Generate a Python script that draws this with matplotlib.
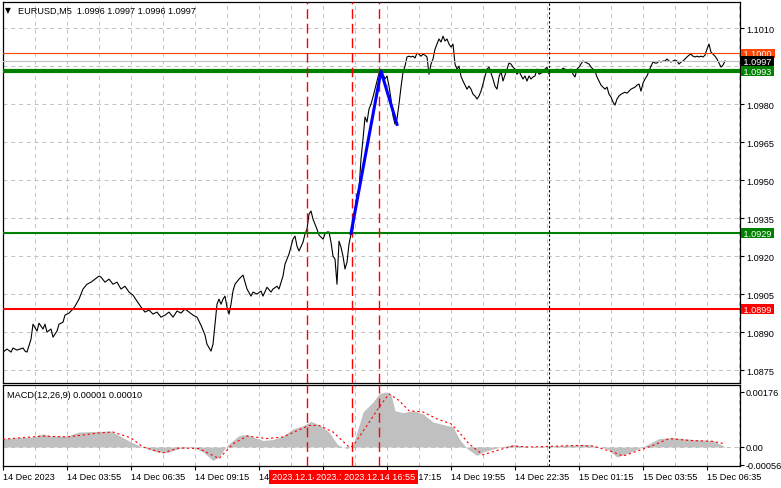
import matplotlib
matplotlib.use("Agg")
import numpy as np
import matplotlib.pyplot as plt
from matplotlib import font_manager

# narrow sans gives the Tahoma-like metrics of the terminal screenshot
installed = {f.name for f in font_manager.fontManager.ttflist}
if 'Liberation Sans Narrow' in installed:
    plt.rcParams['font.family'] = ['Liberation Sans Narrow', 'DejaVu Sans']
    FS = 8.0
else:
    plt.rcParams['font.family'] = ['Liberation Sans', 'DejaVu Sans']
    FS = 6.6

# 5-minute bars counted from 14 Dec 01:15
sparse_bars = [0, 2, 4, 5, 7, 10, 11, 12, 14, 15,
               17, 18, 20, 21, 22, 24, 25, 27, 28, 30,
               31, 33, 35, 36, 38, 40, 42, 44, 46, 48,
               49, 51, 53, 55, 57, 59, 61, 63, 65, 67,
               69, 71, 73, 75, 77, 79, 81, 83, 85, 87,
               89, 91, 93, 95, 97, 99, 101, 102, 104, 105,
               106, 107, 108, 109, 110, 111, 112, 113, 114, 115,
               116, 118, 119, 120, 122, 124, 125, 127, 129, 130,
               132, 134, 135, 137, 138, 140, 141, 143, 145, 146,
               147, 148, 150, 151, 152]
sparse_prices = [1.08821, 1.08833, 1.08821, 1.08837, 1.08829, 1.08837, 1.08825, 1.08821, 1.08872, 1.08931,
                 1.08904, 1.08935, 1.08912, 1.08931, 1.08900, 1.08912, 1.08880, 1.08904, 1.08931, 1.08939,
                 1.08967, 1.08975, 1.08991, 1.09002, 1.09030, 1.09070, 1.09089, 1.09097, 1.09109, 1.09121,
                 1.09117, 1.09097, 1.09109, 1.09089, 1.09097, 1.09070, 1.09081, 1.09058, 1.09046, 1.09022,
                 1.08999, 1.08979, 1.08987, 1.08971, 1.08979, 1.08959, 1.08967, 1.08979, 1.08959, 1.08983,
                 1.08975, 1.08991, 1.08979, 1.08967, 1.08959, 1.08927, 1.08888, 1.08852, 1.08825, 1.08852,
                 1.08931, 1.09010, 1.09030, 1.09010, 1.09030, 1.09042, 1.08999, 1.08971, 1.09010, 1.09062,
                 1.09089, 1.09109, 1.09117, 1.09125, 1.09070, 1.09042, 1.09058, 1.09050, 1.09062, 1.09042,
                 1.09077, 1.09058, 1.09070, 1.09081, 1.09070, 1.09121, 1.09168, 1.09208, 1.09267, 1.09279,
                 1.09239, 1.09220, 1.09255, 1.09287, 1.09306]

dense_bars = list(range(153, 362))
dense_prices = [1.09366, 1.09378, 1.09346, 1.09326, 1.09306, 1.09283, 1.09275, 1.09267, 1.09287, 1.09295,
                1.09295, 1.09255, 1.09200, 1.09188, 1.09089, 1.09259, 1.09235, 1.09200, 1.09149, 1.09176,
                1.09247, 1.09287, 1.09306, 1.09385, 1.09445, 1.09464, 1.09583, 1.09662, 1.09749, 1.09729,
                1.09780, 1.09800, 1.09828, 1.09859, 1.09891, 1.09922, 1.09926, 1.09918, 1.09899, 1.09911,
                1.09871, 1.09820, 1.09753, 1.09721, 1.09741, 1.09800, 1.09867, 1.09926, 1.09950, 1.09986,
                1.09989, 1.09986, 1.09989, 1.09982, 1.10001, 1.09997, 1.09989, 1.09997, 1.09993, 1.09986,
                1.09918, 1.09958, 1.09978, 1.10017, 1.10037, 1.10057, 1.10045, 1.10068, 1.10049, 1.10057,
                1.10037, 1.10025, 1.10037, 1.09958, 1.09938, 1.09950, 1.09910, 1.09891, 1.09875, 1.09859,
                1.09871, 1.09859, 1.09839, 1.09832, 1.09820, 1.09832, 1.09851, 1.09879, 1.09910, 1.09938,
                1.09946, 1.09922, 1.09899, 1.09871, 1.09859, 1.09907, 1.09930, 1.09891, 1.09914, 1.09938,
                1.09962, 1.09958, 1.09946, 1.09938, 1.09918, 1.09930, 1.09914, 1.09899, 1.09911, 1.09891,
                1.09911, 1.09899, 1.09907, 1.09911, 1.09938, 1.09918, 1.09922, 1.09926, 1.09938, 1.09946,
                1.09918, 1.09930, 1.09926, 1.09930, 1.09938, 1.09934, 1.09930, 1.09942, 1.09938, 1.09930,
                1.09934, 1.09938, 1.09918, 1.09907, 1.09938, 1.09946, 1.09958, 1.09970, 1.09966, 1.09962,
                1.09958, 1.09946, 1.09938, 1.09930, 1.09907, 1.09891, 1.09875, 1.09867, 1.09859, 1.09867,
                1.09839, 1.09828, 1.09808, 1.09796, 1.09820, 1.09832, 1.09839, 1.09843, 1.09847, 1.09843,
                1.09851, 1.09859, 1.09863, 1.09867, 1.09875, 1.09879, 1.09851, 1.09883, 1.09899, 1.09911,
                1.09930, 1.09950, 1.09966, 1.09962, 1.09962, 1.09970, 1.09966, 1.09970, 1.09970, 1.09978,
                1.09970, 1.09966, 1.09970, 1.09974, 1.09970, 1.09958, 1.09966, 1.09970, 1.09978, 1.09986,
                1.09993, 1.09997, 1.09989, 1.09986, 1.09989, 1.09986, 1.09989, 1.09986, 1.09993, 1.10017,
                1.10037, 1.10005, 1.09997, 1.09989, 1.09978, 1.09962, 1.09946, 1.09954, 1.09970]

price_bars = sparse_bars + dense_bars
price_close = sparse_prices + dense_prices

# blue trend sketch
blue_bars = [174, 189, 197]
blue_prices = [1.0929, 1.0993, 1.0972]

# horizontal levels
level_prices = [1.1000, 1.0997, 1.0993, 1.0929, 1.0899]
level_colors = ['#FF4500', '#C0C0C0', '#008000', '#008000', '#FF0000']
level_widths = [0.8, 0.8, 3.0, 1.5, 1.5]
level_box_colors = ['#FF4500', 'black', '#008000', '#008000', '#FF0000']

# vertical markers
event_bars = [152.25, 174.5, 188.25]
event_labels = ['2023.12.14 13:55', '2023.12.14 15:45', '2023.12.14 16:55']
day_sep_bar = 273

# MACD histogram and signal
hist_bars = [0, 8, 15, 20, 24, 32, 38, 48, 54, 58,
             64, 68, 72, 77, 82, 88, 95, 100, 105, 108,
             112, 115, 118, 122, 125, 130, 135, 140, 145, 150,
             154, 158, 163, 167, 168, 172, 175, 177, 180, 185,
             188, 191, 194, 196, 200, 205, 210, 215, 220, 225,
             228, 232, 237, 240, 247, 255, 263, 280, 292, 302,
             307, 312, 318, 323, 328, 335, 345, 355, 361]
hist_vals = [0.00026, 0.00030, 0.00032, 0.00042, 0.00035, 0.00035, 0.00048, 0.00050, 0.00051, 0.00037,
             0.00016, 0.00005, -0.00005, -0.00016, -0.00018, -0.00005, 0.0, -0.00016, -0.00043, -0.00032,
             0.00005, 0.00021, 0.00037, 0.00040, 0.00032, 0.00021, 0.00024, 0.00035, 0.00058, 0.00068,
             0.00082, 0.00071, 0.00048, 0.00010, 0.00005, -0.00005, 0.00005, 0.00048, 0.00112, 0.00144,
             0.00170, 0.00176, 0.00168, 0.00116, 0.00110, 0.00116, 0.00106, 0.00080, 0.00072, 0.00064,
             0.00027, -0.00005, -0.00027, -0.00016, -0.00003, 0.00008, 0.0, 0.00005, 0.00008, -0.00005,
             -0.00032, -0.00021, -0.00005, 0.00010, 0.00027, 0.00030, 0.00024, 0.00021, 0.00001]
sig_bars = [0, 20, 32, 48, 55, 64, 70, 80, 88, 98,
            108, 115, 122, 132, 140, 153, 158, 165, 173, 175,
            182, 188, 193, 198, 203, 210, 217, 224, 228, 233,
            240, 247, 255, 263, 288, 295, 305, 310, 318, 325,
            333, 343, 355, 361]
sig_vals = [0.00025, 0.00035, 0.00032, 0.00045, 0.00048, 0.00029, 0.0, -0.00019, -0.00003, -0.00005,
            -0.00037, 0.00010, 0.00035, 0.00027, 0.00032, 0.00069, 0.00069, 0.00048, 0.0, 0.00003,
            0.00069, 0.00127, 0.00170, 0.00149, 0.00116, 0.00112, 0.00090, 0.00074, 0.00048, 0.00010,
            -0.00025, -0.00011, 0.00003, 0.0, 0.00005, 0.00003, -0.00016, -0.00029, -0.00011, 0.00005,
            0.00027, 0.00021, 0.00018, 0.00010]

price_ticks = [1.0875, 1.0890, 1.0905, 1.0920, 1.0935, 1.0950, 1.0965, 1.0980, 1.0995, 1.1010]
macd_ticks = [0.00176, 0.0, -0.00056]
macd_tick_labels = ['0.00176', '0.00', '-0.00056']
x_tick_bars = list(range(0, 353, 32))
x_tick_labels = ['14 Dec 2023', '14 Dec 03:55', '14 Dec 06:35', '14 Dec 09:15', '14 Dec 11:55',
                 '14 Dec 14:35', '14 Dec 17:15', '14 Dec 19:55', '14 Dec 22:35', '15 Dec 01:15',
                 '15 Dec 03:55', '15 Dec 06:35']

W, H = 781, 489
def box(l, t, r, b):
    return [l / W, 1 - b / H, (r - l) / W, (b - t) / H]

fig = plt.figure(figsize=(W / 100, H / 100), dpi=100)
ax = fig.add_axes(box(3, 3, 740, 384))
ax2 = fig.add_axes(box(3, 386, 740, 467))

grid_kw = dict(color='#C0C0C0', lw=0.7, ls=(0, (4, 4)), zorder=0)
for a in (ax, ax2):
    a.set_xlim(0, 368.5)
    for b in range(16, 369, 16):
        a.axvline(b, **grid_kw)
    for s in a.spines.values():
        s.set_linewidth(0.9)
        s.set_color('black')
for p in price_ticks:
    ax.axhline(p, **grid_kw)
ax2.axhline(0, **grid_kw)

# price panel
ax.set_ylim(1.08699, 1.10203)
ax.plot(price_bars, price_close, color='black', lw=0.8, zorder=3)
for p, c, w in zip(level_prices, level_colors, level_widths):
    ax.axhline(p, color=c, lw=w, zorder=4)
ax.plot(blue_bars, blue_prices, color='#0000FF', lw=2.2, zorder=5)

ax.yaxis.tick_right()
ax.set_yticks(price_ticks)
ax.set_yticklabels(['' if abs(p - 1.0995) < 1e-6 else '%.4f' % p for p in price_ticks])
ax.tick_params(axis='y', direction='out', length=3, width=0.8, pad=1.5, labelsize=FS)
ax.set_xticks([])

for p, c in zip(level_prices, level_box_colors):
    ax.annotate(' %.4f ' % p, xy=(1, p), xycoords=ax.get_yaxis_transform(),
                xytext=(0.8, 0), textcoords='offset points', ha='left', va='center',
                fontsize=FS, color='white', annotation_clip=False, zorder=6,
                bbox=dict(boxstyle='square,pad=0.04', fc=c, ec='none'))

# MACD panel
ax2.set_ylim(-0.000608, 0.001984)
ax2.fill_between(hist_bars, 0, hist_vals, color='#C0C0C0', lw=0, zorder=2)
ax2.plot(sig_bars, sig_vals, color='#FF0000', lw=0.8, ls=(0, (2, 2.5)), zorder=3)
ax2.yaxis.tick_right()
ax2.set_yticks(macd_ticks)
ax2.set_yticklabels(macd_tick_labels)
ax2.tick_params(axis='y', direction='out', length=3, width=0.8, pad=1, labelsize=FS)
ax2.set_xticks(x_tick_bars)
ax2.set_xticklabels(x_tick_labels)
ax2.tick_params(axis='x', direction='out', length=3, width=0.8, pad=1.5, labelsize=FS)
plt.setp(ax2.get_xticklabels(), ha='left')

# vertical markers across both panels
for a in (ax, ax2):
    for b in event_bars:
        a.axvline(b, color='#FF0000', lw=1.0, ls=(0, (7, 3.5)), zorder=4)
    a.axvline(day_sep_bar, color='black', lw=0.8, ls=(0, (2, 2)), zorder=4)

for b, lab in zip(event_bars, event_labels):
    ax2.text(b, -0.135, lab, transform=ax2.get_xaxis_transform(), ha='center', va='center',
             color='white', fontsize=FS, clip_on=False, zorder=10,
             bbox=dict(boxstyle='square,pad=0.3', fc='#FF0000', ec='none'))

fig.text(5 / W, 1 - 11 / H, '\u25BC', fontsize=5.5, va='center', ha='left', family='DejaVu Sans')
fig.text(18 / W, 1 - 11 / H, 'EURUSD,M5  1.0996 1.0997 1.0996 1.0997', fontsize=FS,
         va='center', ha='left')
fig.text(7 / W, 1 - 395 / H, 'MACD(12,26,9) 0.00001 0.00010', fontsize=FS, va='center', ha='left')

fig.savefig('out.png', dpi=100)
